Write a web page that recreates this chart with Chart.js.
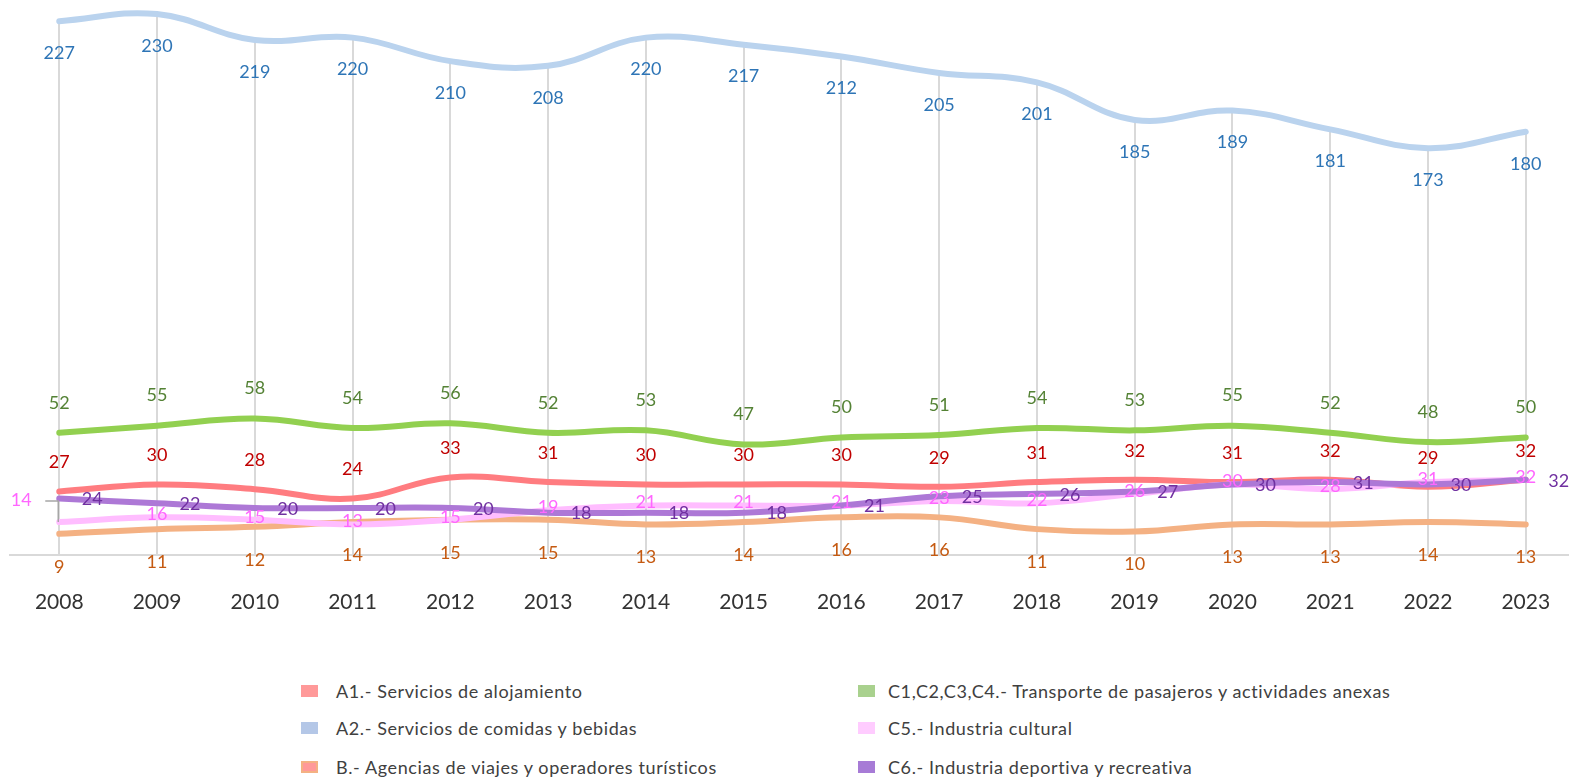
<!DOCTYPE html>
<html>
<head>
<meta charset="utf-8">
<script src="https://cdn.jsdelivr.net/npm/chart.js@4.4.0/dist/chart.umd.min.js"></script>
<style>
  html, body { margin: 0; padding: 0; background: #fff; overflow: hidden; }
  body { width: 1569px; height: 778px; position: relative; font-family: Lato, "Open Sans", sans-serif; }
  #wrap { position: absolute; left: 0; top: 0; width: 1585px; height: 640px; }
  .leyenda { position: absolute; font-size: 18px; letter-spacing: 0.6px; color: #404040; white-space: nowrap; }
  .leyenda span.cuadro { position: absolute; top: 50%; width: 17px; height: 12px; margin-top: -6px; box-sizing: border-box; }
</style>
</head>
<body>
<div id="wrap"><canvas id="grafico"></canvas></div>
<div id="leyenda"></div>
<script>
const anios = ['2008','2009','2010','2011','2012','2013','2014','2015','2016','2017','2018','2019','2020','2021','2022','2023'];

const alojamiento   = [27, 30, 28, 24, 33, 31, 30, 30, 30, 29, 31, 32, 31, 32, 29, 32];
const comidas       = [227, 230, 219, 220, 210, 208, 220, 217, 212, 205, 201, 185, 189, 181, 173, 180];
const agencias      = [9, 11, 12, 14, 15, 15, 13, 14, 16, 16, 11, 10, 13, 13, 14, 13];
const transporte    = [52, 55, 58, 54, 56, 52, 53, 47, 50, 51, 54, 53, 55, 52, 48, 50];
const cultural      = [14, 16, 15, 13, 15, 19, 21, 21, 21, 23, 22, 26, 30, 28, 31, 32];
const deportiva     = [24, 22, 20, 20, 20, 18, 18, 18, 21, 25, 26, 27, 30, 31, 30, 32];

const series = [
  { nombre: 'A1.- Servicios de alojamiento', datos: alojamiento, linea: '#ff7c80', texto: '#c00000', cuadro: '#ff9999', dx: 0, dy: -29, orden: 5 },
  { nombre: 'A2.- Servicios de comidas y bebidas', datos: comidas, linea: '#bad3ee', texto: '#2e75b6', cuadro: '#b4c7e7', dx: 0, dy: 32, orden: 4 },
  { nombre: 'B.- Agencias de viajes y operadores turísticos', datos: agencias, linea: '#f4b183', texto: '#c55a11', cuadro: '#ff9999', borde: '#f4b183', dx: 0, dy: 33, orden: 3 },
  { nombre: 'C1,C2,C3,C4.- Transporte de pasajeros y actividades anexas', datos: transporte, linea: '#92d050', texto: '#548235', cuadro: '#a9d18e', dx: 0, dy: -30, orden: 2 },
  { nombre: 'C5.- Industria cultural', datos: cultural, linea: '#ffbdff', texto: '#ff66ff', cuadro: '#ffccff', dx: 0, dy: -3, orden: 1 },
  { nombre: 'C6.- Industria deportiva y recreativa', datos: deportiva, linea: '#ad78d6', texto: '#7030a0', cuadro: '#a77bd6', dx: 33, dy: 1, orden: 0 }
];

// lineas de caida desde la serie mas alta hasta el eje
const lineasCaida = {
  id: 'lineasCaida',
  beforeDatasetsDraw(chart) {
    const ctx = chart.ctx;
    const meta = chart.getDatasetMeta(1);
    const base = chart.scales.y.getPixelForValue(0);
    ctx.save();
    ctx.strokeStyle = '#d9d9d9';
    ctx.lineWidth = 2;
    meta.data.forEach(p => {
      ctx.beginPath();
      ctx.moveTo(Math.round(p.x), p.y);
      ctx.lineTo(Math.round(p.x), base);
      ctx.stroke();
    });
    ctx.restore();
  }
};

const etiquetas = {
  id: 'etiquetas',
  afterDatasetsDraw(chart) {
    const ctx = chart.ctx;
    ctx.save();
    ctx.font = '18px Lato, "Open Sans", sans-serif';
    ctx.textAlign = 'center';
    ctx.textBaseline = 'middle';
    series.forEach((s, i) => {
      const meta = chart.getDatasetMeta(i);
      meta.data.forEach((p, j) => {
        let x = p.x + s.dx;
        let y = p.y + s.dy;
        if (i === 4 && j === 0) {
          // etiqueta desplazada con linea guia
          x = p.x - 38;
          y = p.y - 22;
          ctx.strokeStyle = '#a6a6a6';
          ctx.lineWidth = 1.5;
          ctx.beginPath();
          ctx.moveTo(p.x - 14, y + 1);
          ctx.lineTo(p.x - 1, y + 1);
          ctx.lineTo(p.x - 1, p.y);
          ctx.stroke();
        }
        ctx.fillStyle = s.texto;
        ctx.fillText(String(s.datos[j]), x, y);
      });
    });
    ctx.restore();
  }
};

const ctx = document.getElementById('grafico').getContext('2d');
new Chart(ctx, {
  type: 'line',
  data: {
    labels: anios,
    datasets: series.map(s => ({
      label: s.nombre,
      data: s.datos,
      borderColor: s.linea,
      borderWidth: 6,
      pointRadius: 0,
      tension: 0.4,
      fill: false,
      order: s.orden,
      clip: false,
      borderCapStyle: 'round'
    }))
  },
  options: {
    responsive: true,
    maintainAspectRatio: false,
    animation: false,
    layout: { padding: { left: 7, right: 0, top: 0, bottom: 0 } },
    plugins: {
      legend: { display: false },
      tooltip: { enabled: false }
    },
    scales: {
      x: {
        offset: true,
        grid: { display: false, drawTicks: false },
        border: { display: true, color: '#d9d9d9', width: 2 },
        ticks: {
          padding: 35,
          color: '#333333',
          font: { family: 'Lato, "Open Sans", sans-serif', size: 21 }
        },
        afterFit(scale) { scale.height = 85; }
      },
      y: {
        display: false,
        min: 0,
        max: 236
      }
    }
  },
  plugins: [lineasCaida, etiquetas]
});

// leyenda en dos columnas
const posiciones = [
  { x: 301, y: 691 }, { x: 301, y: 728 }, { x: 301, y: 767 },
  { x: 858, y: 691 }, { x: 858, y: 728 }, { x: 858, y: 767 }
];
const cont = document.getElementById('leyenda');
series.forEach((s, n) => {
  const pos = posiciones[n];
  const item = document.createElement('div');
  item.className = 'leyenda';
  item.style.left = pos.x + 'px';
  item.style.top = (pos.y - 12) + 'px';
  item.style.height = '24px';
  item.style.lineHeight = '24px';
  item.style.paddingLeft = (n < 3 ? 35 : 30) + 'px';
  const c = document.createElement('span');
  c.className = 'cuadro';
  c.style.left = '0px';
  c.style.background = s.cuadro;
  if (s.borde) c.style.border = '2px solid ' + s.borde;
  item.appendChild(c);
  item.appendChild(document.createTextNode(s.nombre));
  cont.appendChild(item);
});
</script>
</body>
</html>
